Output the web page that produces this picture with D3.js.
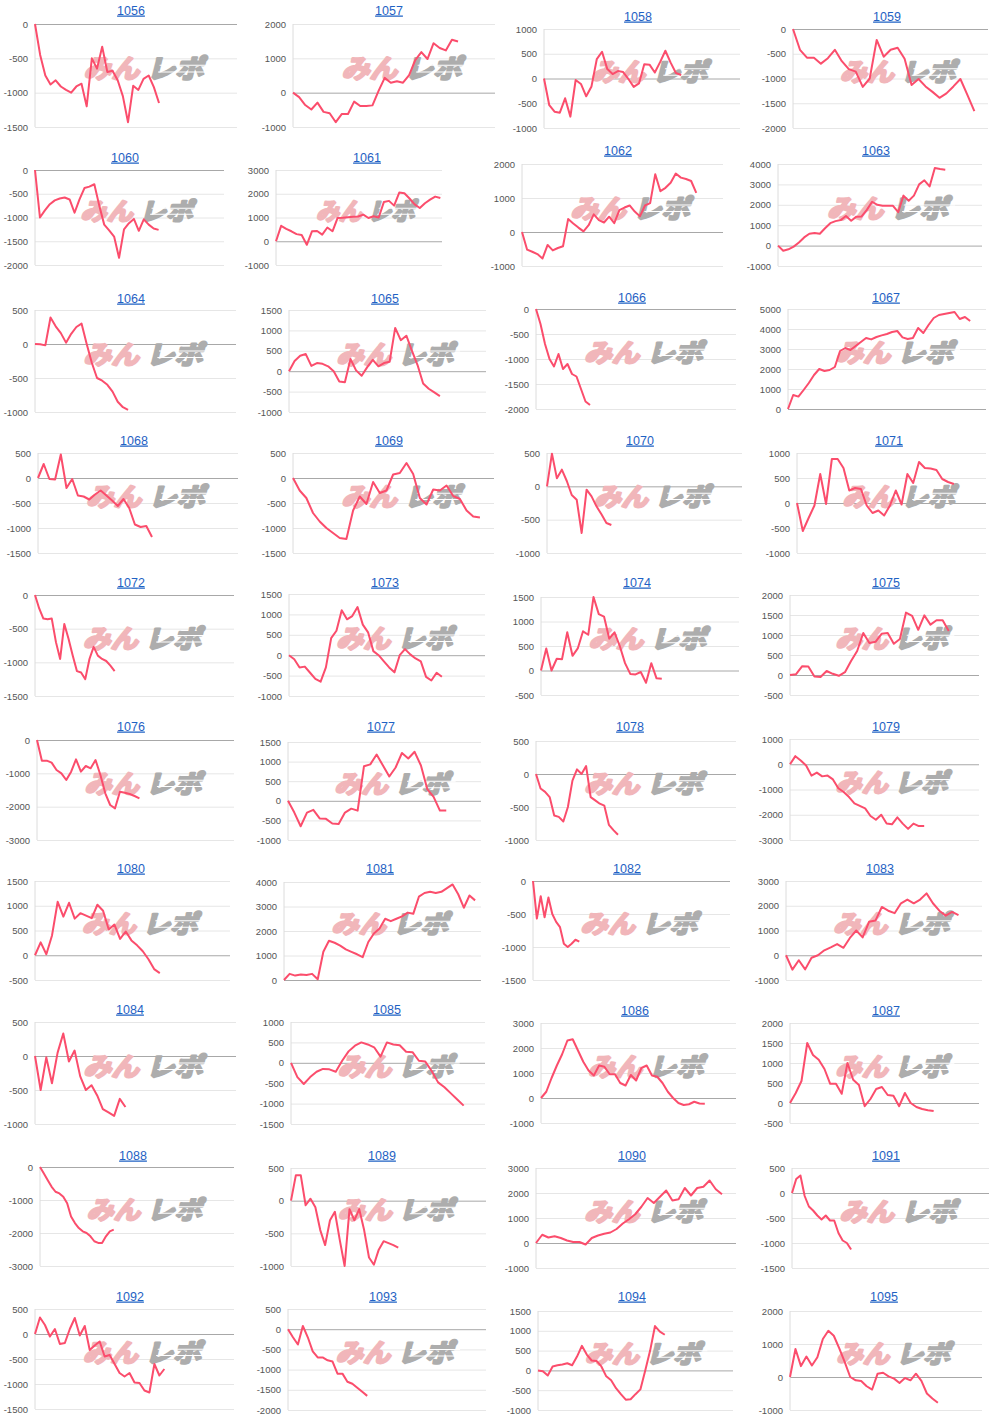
<!DOCTYPE html>
<html>
<head>
<meta charset="utf-8">
<script src="https://cdn.jsdelivr.net/npm/d3@7"></script>
<style>
  body { margin: 0; background: #fff; }
  .tick text { font-family: "Liberation Sans", Arial, sans-serif; font-size: 9.5px; fill: #555; }
  .title { font-family: "Liberation Sans", Arial, sans-serif; font-size: 12.5px; fill: #1f62c4; text-decoration: underline; }
</style>
</head>
<body>
<svg id="chart" width="1000" height="1420"></svg>
<script>
const titles = d3.range(1056, 1096).map(String);

// y-axis range per panel: top tick, bottom tick, step
const tickMax  = [0,2000,1000,0, 0,3000,2000,4000, 500,1500,0,5000, 500,500,500,1000, 0,1500,1500,2000,
                  0,1500,500,1000, 1500,4000,0,3000, 500,1000,3000,2000, 0,500,3000,500, 500,500,1500,2000];
const tickMin  = [-1500,-1000,-1000,-2000, -2000,-1000,-1000,-1000, -1000,-1000,-2000,0, -1500,-1500,-1000,-1000,
                  -1500,-1000,-500,-500, -3000,-1000,-1000,-3000, -500,0,-1500,-1000, -1000,-1500,-1000,-500,
                  -3000,-1000,-1000,-1500, -1500,-2000,-1000,-1000];
const tickStep = [500,1000,500,500, 500,1000,1000,1000, 500,500,500,1000, 500,500,500,500, 500,500,500,500,
                  1000,500,500,1000, 500,1000,500,1000, 500,500,1000,500, 1000,500,1000,500, 500,500,500,1000];

const values = [
  [0,-450,-750,-880,-820,-910,-960,-1000,-910,-870,-1200,-500,-650,-330,-700,-680,-820,-1050,-1430,-900,-960,-800,-750,-920,-1150],
  [0,-130,-360,-490,-290,-560,-600,-860,-620,-620,-260,-390,-390,-370,50,430,290,330,290,510,950,1180,980,1440,1300,1230,1540,1490],
  [0,-540,-670,-690,-400,-770,-30,-110,-360,-160,390,540,190,90,150,130,-10,-170,-100,290,280,120,330,560,320,110,70],
  [0,-420,-580,-580,-700,-590,-420,-650,-810,-860,-1170,-1000,-220,-560,-420,-380,-600,-1130,-1010,-1160,-1270,-1390,-1300,-1160,-1010,-1330,-1660],
  [0,-1000,-850,-720,-640,-600,-580,-620,-900,-620,-380,-350,-300,-750,-1150,-1270,-1400,-1850,-1250,-1120,-1030,-1280,-1040,-1150,-1230,-1260],
  [0,650,520,420,300,260,-150,420,430,280,580,420,980,990,1010,1030,1040,1120,980,1050,1000,1650,1700,1500,2050,2020,1800,1550,1400,1600,1750,1880,1820],
  [0,-520,-580,-650,-780,-380,-540,-470,-420,380,250,130,20,200,520,350,280,450,260,640,720,780,600,460,780,850,1700,1200,1300,1450,1720,1600,1560,1500,1150],
  [0,-250,-180,-50,150,400,580,620,580,850,1100,1200,1250,1450,1220,1420,1430,1750,2150,2000,1950,1950,1950,1640,2450,2200,2450,3000,3200,2900,3800,3750,3720],
  [0,-5,-20,390,260,160,20,150,250,300,0,-280,-500,-540,-600,-700,-850,-930,-970],
  [0,250,380,420,130,200,180,120,0,-250,-270,300,20,-110,100,280,120,200,230,1060,760,870,500,150,-300,-430,-520,-610],
  [0,-300,-700,-1000,-1150,-900,-1200,-1100,-1300,-1350,-1600,-1850,-1920],
  [0,700,620,950,1300,1700,2000,1900,1950,2100,2900,3050,2950,3150,3350,3550,3480,3600,3680,3750,3850,3900,3580,3500,3550,4050,3800,4200,4550,4700,4750,4800,4850,4500,4600,4400],
  [0,280,-20,-30,470,-200,-20,-350,-370,-430,-330,-250,-350,-450,-560,-420,-600,-930,-980,-960,-1180],
  [0,-250,-400,-700,-870,-1000,-1100,-1200,-1220,-650,-370,-520,-80,-300,-250,70,100,300,80,-400,-530,-230,-250,-150,-360,-420,-650,-770,-790],
  [0,490,120,250,80,-130,-200,-700,-50,-150,-300,-420,-550,-580],
  [0,-560,-300,-50,580,-20,880,880,700,250,300,280,-50,-200,-150,-250,-50,250,-30,580,400,820,700,690,660,480,420,380],
  [0,-200,-350,-360,-350,-700,-950,-430,-650,-900,-1130,-1150,-1250,-950,-770,-900,-950,-980,-1050,-1130],
  [0,-100,-300,-280,-430,-580,-650,-300,420,600,1100,880,960,1180,750,560,100,0,-150,-300,-420,0,150,20,-80,-150,-530,-620,-430,-530],
  [0,450,0,240,230,780,300,450,800,730,1500,1150,1100,650,780,500,150,-70,-80,-30,-250,150,-160,-170],
  [0,20,220,210,-40,-50,100,30,-20,70,350,600,1050,800,830,1030,1050,780,900,1560,1480,1130,1490,1260,1370,1370,1100],
  [0,-620,-620,-680,-900,-1000,-1200,-950,-580,-950,-780,-850,-600,-1050,-1600,-1950,-2050,-1550,-1580,-1620,-1680,-1750],
  [0,-300,-650,-300,-230,-450,-460,-580,-590,-300,-200,-250,880,930,1180,900,620,850,1220,1080,1250,900,300,100,-250,-250],
  [0,-220,-270,-350,-630,-650,-720,-500,-100,70,0,120,-350,-400,-450,-480,-770,-850,-920],
  [0,320,150,-50,-450,-330,-480,-450,-600,-950,-1100,-1300,-1550,-1650,-1750,-2050,-2200,-2000,-2350,-2380,-2100,-2350,-2560,-2350,-2450,-2450],
  [0,260,20,400,1080,780,1060,740,850,800,750,1020,900,520,620,330,480,300,200,80,-80,-280,-360],
  [0,250,180,220,200,250,30,1150,1600,1520,1400,1250,1150,1050,930,1550,1900,2100,2500,2400,2500,2600,2750,2700,3400,3550,3600,3550,3600,3750,3900,3500,2950,3450,3250],
  [0,-570,-230,-550,-250,-500,-620,-700,-950,-1000,-950,-890,-920],
  [0,-580,-200,-570,-100,0,200,320,450,300,700,1000,720,1350,1400,1950,1800,1700,2100,2250,2100,2250,2500,2100,1800,1600,1750,1620],
  [0,-500,-20,-400,50,330,-80,80,-300,-500,-430,-580,-780,-830,-880,-630,-750],
  [0,-350,-520,-350,-220,-150,-160,-220,50,280,420,500,450,380,150,500,450,430,270,260,50,30,-200,-480,-600,-750,-900,-1050],
  [0,250,800,1300,1750,2300,2350,1900,1450,1100,900,1300,1250,950,950,600,500,920,700,1200,1300,900,850,600,250,0,-200,-280,-250,-150,-220,-230],
  [0,250,550,1500,1200,1080,850,480,480,230,1000,580,450,-80,100,350,400,200,180,-80,250,0,-100,-150,-180,-200],
  [0,-200,-400,-600,-750,-800,-900,-1100,-1500,-1700,-1850,-1950,-2000,-2100,-2250,-2300,-2300,-2100,-1950,-1900],
  [0,390,390,-70,30,-100,-450,-680,-300,-170,-600,-1000,-130,-300,-130,-450,-870,-980,-750,-620,-650,-680,-720],
  [0,330,220,270,200,100,40,40,-60,200,300,370,420,560,780,950,1150,1450,1800,1600,1850,2100,1700,1750,2200,1900,2200,2250,2500,2150,1950],
  [0,280,350,-60,-270,-350,-450,-530,-450,-550,-550,-800,-950,-1000,-1130],
  [0,330,180,-50,100,-200,-180,100,320,-30,160,-320,-230,-150,-450,-420,-600,-780,-850,-780,-970,-980,-1130,-1170,-600,-830,-700],
  [0,-200,-380,80,-200,-550,-700,-700,-770,-800,-1100,-1100,-1300,-1350,-1450,-1550,-1650],
  [0,-20,-130,100,130,150,180,130,350,620,400,250,240,100,-150,-250,-450,-600,-740,-730,-600,-480,0,500,1120,980,900],
  [0,850,330,620,350,600,1150,1400,1250,870,450,0,-100,-120,-280,-380,100,130,20,-50,-180,-30,-100,100,-120,-500,-650,-780]
];

// panel frames: plot left, right, top, bottom, title x, title y, share of width the line covers
const frames = [
  [35,237,24,127,131,10,0.614], [293,495,24,127,389,10,0.817], [544,740,29,128,638,16,0.70], [793,988,29,128,887,16,0.93],
  [35,224,170,265,125,157,0.654], [276,442,170,265,367,157,0.99], [522,723,164,266,618,150,0.867], [778,982,164,266,876,150,0.82],
  [35,236,310,412,131,298,0.463], [289,486,310,412,385,298,0.766], [536,736,309,409,632,297,0.27], [788,986,309,409,886,297,0.92],
  [38,238,453,553,134,440,0.57], [293,494,453,553,389,440,0.93], [547,742,453,553,640,440,0.33], [797,986,453,553,889,440,0.83],
  [35,234,595,696,131,582,0.40], [289,485,594,696,385,582,0.78], [541,739,597,695,637,582,0.61], [790,979,595,695,886,582,0.84],
  [37,234,740,840,131,726,0.52], [288,481,742,840,381,726,0.82], [536,736,741,840,630,726,0.41], [790,979,739,840,886,726,0.71],
  [35,230,881,980,131,868,0.64], [284,481,882,980,380,868,0.97], [533,730,881,980,627,868,0.235], [786,982,881,980,880,868,0.88],
  [35,236,1022,1124,130,1009,0.45], [291,485,1022,1124,387,1009,0.89], [541,736,1023,1123,635,1010,0.84], [790,979,1023,1123,886,1010,0.76],
  [40,234,1167,1266,133,1155,0.38], [291,486,1168,1266,382,1155,0.55], [536,736,1168,1268,632,1155,0.93], [792,989,1168,1268,886,1155,0.30],
  [35,234,1309,1409,130,1296,0.65], [288,486,1309,1410,383,1296,0.40], [538,733,1311,1410,632,1296,0.65], [790,982,1311,1410,884,1296,0.77]
];

const svg = d3.select('#chart');
const lineColor = '#fb4d6c';

titles.forEach((name, i) => {
  const [left, right, top, bottom, titleX, titleY, span] = frames[i];
  const data = values[i];
  const g = svg.append('g').attr('class', `panel-${name}`);

  const y = d3.scaleLinear().domain([tickMin[i], tickMax[i]]).range([bottom, top]);
  const x = d3.scaleLinear().domain([0, (data.length - 1) / span]).range([left, right]);
  const ticks = d3.range(tickMin[i], tickMax[i] + 1, tickStep[i]);

  const axis = g.append('g')
    .attr('transform', `translate(${left},0)`)
    .call(d3.axisLeft(y).tickValues(ticks).tickSize(-(right - left)).tickPadding(7).tickFormat(d => String(d)));
  axis.select('.domain').remove();
  axis.selectAll('.tick line')
    .attr('stroke', d => d === 0 ? '#a8a8a8' : '#e6e6e6')
    .attr('stroke-width', 1);
  axis.selectAll('.tick text').attr('font-family', null).attr('font-size', null);

  g.append('line')
    .attr('x1', left).attr('x2', left).attr('y1', top).attr('y2', bottom)
    .attr('stroke', '#dcdcdc');

  // watermark
  const wmW = (right - left) * 0.6, wmH = (bottom - top) * 0.23;
  const wmX = left + (right - left) * 0.54 - wmW / 2;
  const wmY = top + (bottom - top) * 0.42 + wmH / 2;
  const wm = g.append('g')
    .attr('transform', `translate(${wmX},${wmY}) skewX(-14)`)
    .attr('font-family', '"Noto Sans CJK JP", sans-serif')
    .attr('font-weight', 700)
    .attr('font-size', wmH * 1.1)
    .attr('stroke-width', 2.4)
    .attr('stroke-linejoin', 'round');
  wm.append('text').text('みん')
    .attr('x', 0).attr('y', -1)
    .attr('textLength', wmW * 0.46).attr('lengthAdjust', 'spacingAndGlyphs')
    .attr('fill', '#f1b6ba').attr('stroke', '#f1b6ba');
  wm.append('text').text('レポ')
    .attr('x', wmW * 0.52).attr('y', -1)
    .attr('textLength', wmW * 0.47).attr('lengthAdjust', 'spacingAndGlyphs')
    .attr('fill', '#adadad').attr('stroke', '#adadad');
  [0.3, 0.58].forEach(f => {
    wm.append('line')
      .attr('x1', wmW * 0.6).attr('x2', wmW * 1.02)
      .attr('y1', -wmH * f).attr('y2', -wmH * f)
      .attr('stroke', '#fff').attr('stroke-width', 1);
  });

  g.append('path')
    .datum(data)
    .attr('fill', 'none')
    .attr('stroke', lineColor)
    .attr('stroke-width', 2)
    .attr('stroke-linejoin', 'round')
    .attr('d', d3.line().x((d, j) => x(j)).y(d => y(d)));

  g.append('text')
    .attr('class', 'title')
    .attr('x', titleX).attr('y', titleY + 4.5)
    .attr('text-anchor', 'middle')
    .text(name);
});
</script>
</body>
</html>
